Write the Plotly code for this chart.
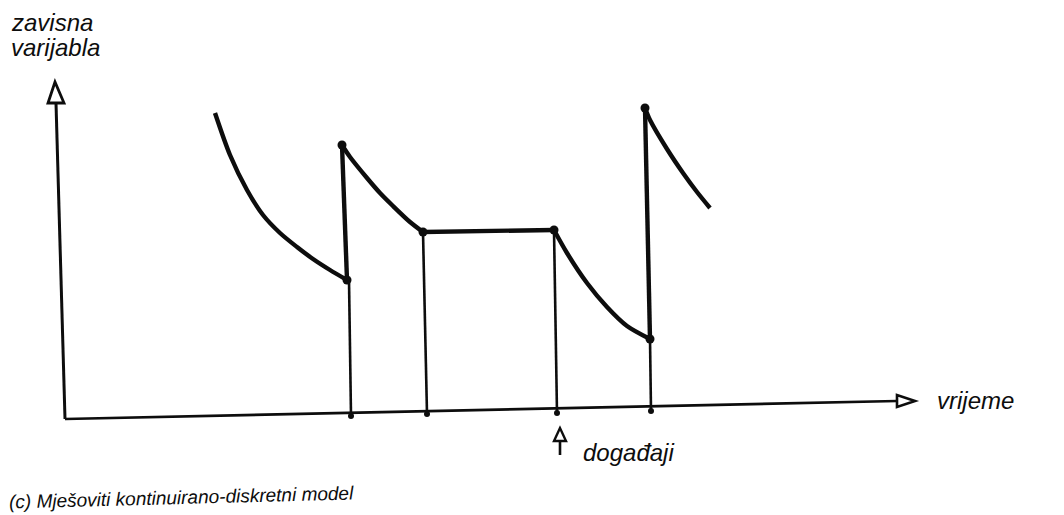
import plotly.graph_objects as go

# ---- data (pixel-space schematic coordinates) ----
# continuous segments (dependent variable over time)
seg1_x = [215, 230, 247, 263, 280, 297, 313, 330, 347]
seg1_y = [113, 155, 190, 215, 233, 247, 259, 270, 280]
jump1_x = [347, 342]
jump1_y = [280, 145]
seg2_x = [342, 350, 367, 380, 393, 410, 423]
seg2_y = [145, 157, 178, 193, 206, 222, 232]
flat_x = [423, 554]
flat_y = [232, 230]
seg3_x = [554, 567, 587, 607, 627, 650]
seg3_y = [230, 253, 283, 307, 326, 339]
jump2_x = [650, 645]
jump2_y = [339, 108]
seg4_x = [645, 650, 667, 683, 697, 710]
seg4_y = [108, 120, 149, 173, 192, 208]

# discrete events: top of each drop line (state) and its foot on the time axis
event_top_x = [349, 423, 554, 650]
event_top_y = [280, 232, 230, 339]
event_base_x = [351, 427, 557, 651]
event_base_y = [416, 414, 413, 411]

# state points marked with dots
dot_x = [342, 347, 423, 554, 650, 645]
dot_y = [145, 280, 232, 230, 339, 108]

# axes (slightly tilted as in the scan)
origin = (65, 419)
x_axis_end = (897, 401)
y_axis_end = (56, 103)

INK = "#0d0d0d"
BG = "#ffffff"
FONT = "Liberation Sans, Arial, sans-serif"
PAGE_OFFSET = 8  # default body margin of the html page

fig = go.Figure()

def line(xs, ys, w, smooth=0.0):
    fig.add_trace(go.Scatter(x=xs, y=ys, mode="lines",
                             line=dict(color=INK, width=w,
                                       shape="spline" if smooth else "linear",
                                       smoothing=smooth if smooth else None),
                             hoverinfo="skip", showlegend=False))

# axes
line([origin[0], x_axis_end[0]], [origin[1], x_axis_end[1]], 2.6)
line([origin[0], y_axis_end[0]], [origin[1], y_axis_end[1]], 3.0)

# drop lines from state to time axis
for tx, ty, bx, by in zip(event_top_x, event_top_y, event_base_x, event_base_y):
    line([tx, bx], [ty, by], 2.6)

# continuous trajectory
for xs, ys in [(seg1_x, seg1_y), (seg2_x, seg2_y), (seg3_x, seg3_y), (seg4_x, seg4_y)]:
    line(xs, ys, 4.4, smooth=0.8)
for xs, ys in [(jump1_x, jump1_y), (flat_x, flat_y), (jump2_x, jump2_y)]:
    line(xs, ys, 4.4)

# dots
fig.add_trace(go.Scatter(x=dot_x, y=dot_y, mode="markers",
                         marker=dict(color=INK, size=9), hoverinfo="skip", showlegend=False))
fig.add_trace(go.Scatter(x=event_base_x, y=event_base_y, mode="markers",
                         marker=dict(color=INK, size=6), hoverinfo="skip", showlegend=False))

# hollow arrowheads as path shapes
def arrow_path(tip, base_c, half_w, horizontal):
    tx, ty = tip
    bx, by = base_c
    if horizontal:
        return f"M {tx} {ty} L {bx} {by - half_w} L {bx} {by + half_w} Z"
    return f"M {tx} {ty} L {bx - half_w} {by} L {bx + half_w} {by} Z"

ev = event_base_x[2] + 3
shapes = [
    dict(type="path", path=arrow_path((x_axis_end[0] + 18, x_axis_end[1]), x_axis_end, 6, True),
         line=dict(color=INK, width=2.6), fillcolor="rgba(0,0,0,0)", xref="x", yref="y"),
    dict(type="path", path=arrow_path((y_axis_end[0] - 1, y_axis_end[1] - 21), y_axis_end, 8, False),
         line=dict(color=INK, width=2.8), fillcolor="rgba(0,0,0,0)", xref="x", yref="y"),
    # event marker arrow below the time axis
    dict(type="line", x0=ev, y0=441, x1=ev, y1=455,
         line=dict(color=INK, width=2.6), xref="x", yref="y"),
    dict(type="path", path=arrow_path((ev, 428), (ev, 441), 6, False),
         line=dict(color=INK, width=2.4), fillcolor="rgba(0,0,0,0)", xref="x", yref="y"),
]

def label(text, x, y, size, xanchor="left", yanchor="middle", angle=0, xshift=0):
    return dict(text=f"<i>{text}</i>", x=x, y=y, xref="x", yref="y", showarrow=False,
                xanchor=xanchor, yanchor=yanchor, textangle=angle, xshift=xshift,
                font=dict(family=FONT, size=size, color=INK))

annotations = [
    label("zavisna", 10, 22, 24, xshift=-1),
    label("varijabla", 10, 47, 24, xshift=-1),
    label("vrijeme", 935, 400, 24),
    label("događaji", 581, 452, 24),
    label("(c) Mješoviti kontinuirano-diskretni model", 12, 497, 19, angle=-1.5, xshift=-5),
]

fig.update_layout(
    width=1064 - PAGE_OFFSET, height=515 - PAGE_OFFSET,
    margin=dict(l=0, r=0, t=0, b=0),
    paper_bgcolor=BG, plot_bgcolor=BG,
    xaxis=dict(range=[PAGE_OFFSET, 1064], visible=False, fixedrange=True),
    yaxis=dict(range=[515, PAGE_OFFSET], visible=False, fixedrange=True),
    shapes=shapes, annotations=annotations,
    showlegend=False,
)

fig.write_html("out.html")
